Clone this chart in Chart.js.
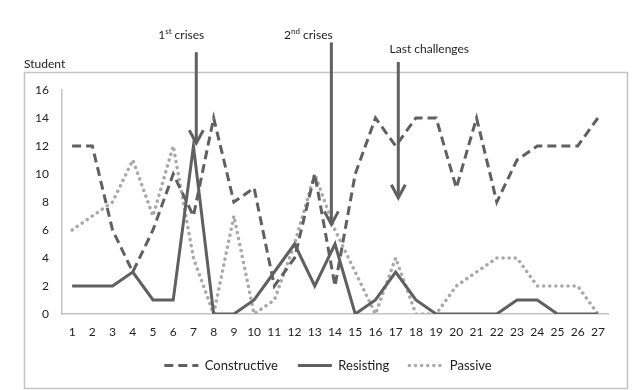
<!DOCTYPE html>
<html><head><meta charset="utf-8">
<script src="https://cdn.jsdelivr.net/npm/chart.js@4/dist/chart.umd.min.js"></script>
<style>html,body{margin:0;padding:0;background:#fff}</style>
</head><body>
<canvas id="c" width="643" height="390" style="display:block;width:643px;height:390px"></canvas>
<script>
const categories = ['1','2','3','4','5','6','7','8','9','10','11','12','13','14','15','16','17','18','19','20','21','22','23','24','25','26','27'];
const constructive = [12,12,6,3,6,10,7,14,8,9,2,4,10,2,10,14,12,14,14,9,14,8,11,12,12,12,14];
const resisting    = [2,2,2,3,1,1,12,0,0,1,3,5,2,5,0,1,3,1,0,0,0,0,1,1,0,0,0];
const passive      = [6,7,8,11,7,12,4,0,7,0,1,5,10,6,3,0,4,0,0,2,3,4,4,2,2,2,0];
const yTickStep    = 2;
const yMin = 0, yMax = 16;
const yAxisTitle   = 'Student';
const seriesNames  = ['Constructive','Resisting','Passive'];
// event annotations: [main, superscript, rest]
const eventTexts   = [['1','st',' crises'],['2','nd',' crises'],['Last challenges','','']];
const eventCategory = [7.14, 13.82, 17.13];   // category position of arrow
const eventTipValue = [12.2, 6.4, 8.3];       // value the arrow points to
const eventTopValue = [18.7, 19.4, 18.0];     // value where arrow starts

const FONT = 'Lato, "Open Sans", sans-serif';
const DARK = '#606060';
const LIGHT = '#a9a9a9';

const annot = {
  id: 'annot',
  afterDraw(chart) {
    const ctx = chart.ctx, xs = chart.scales.x, ys = chart.scales.y;
    ctx.save();
    ctx.strokeStyle = '#c4c4c4'; ctx.lineWidth = 1.5;
    ctx.strokeRect(24.5, 72.5, 603, 316);
    ctx.fillStyle = '#222';
    ctx.font = '12px ' + FONT;
    ctx.textBaseline = 'middle'; ctx.textAlign = 'left';
    ctx.fillText(yAxisTitle, 24, 64);
    const labelDx = [-15, -23, 31];
    const labelY = [35, 35, 49];
    eventCategory.forEach((c, i) => {
      const x = xs.getPixelForValue(c - 1);
      const tip = ys.getPixelForValue(eventTipValue[i]);
      const top = ys.getPixelForValue(eventTopValue[i]);
      ctx.strokeStyle = DARK; ctx.lineWidth = 3; ctx.lineJoin = 'miter'; ctx.lineCap = 'butt';
      ctx.setLineDash([]);
      ctx.beginPath(); ctx.moveTo(x, top); ctx.lineTo(x, tip - 1); ctx.stroke();
      ctx.beginPath(); ctx.moveTo(x - 7, tip - 13); ctx.lineTo(x, tip); ctx.lineTo(x + 7, tip - 13); ctx.stroke();
      const [a, s, r] = eventTexts[i];
      ctx.font = '12px ' + FONT; const wa = ctx.measureText(a).width, wr = ctx.measureText(r).width;
      ctx.font = '8px ' + FONT; const ws = ctx.measureText(s).width;
      let lx = x + labelDx[i] - (wa + ws + wr) / 2;
      const ly = labelY[i];
      ctx.fillStyle = '#222';
      ctx.font = '12px ' + FONT; ctx.fillText(a, lx, ly); lx += wa;
      ctx.font = '8px ' + FONT; ctx.fillText(s, lx, ly - 4); lx += ws;
      ctx.font = '12px ' + FONT; ctx.fillText(r, lx, ly);
    });
    ctx.restore();
  }
};

new Chart(document.getElementById('c'), {
  type: 'line',
  data: {
    labels: categories,
    datasets: [
      { label: seriesNames[0], data: constructive, borderColor: DARK, backgroundColor: DARK, borderWidth: 3, borderDash: [9,5], borderCapStyle: 'butt' },
      { label: seriesNames[1], data: resisting, borderColor: DARK, backgroundColor: DARK, borderWidth: 3 },
      { label: seriesNames[2], data: passive, borderColor: LIGHT, backgroundColor: LIGHT, borderWidth: 3.5, borderDash: [0.1,6], borderCapStyle: 'round' }
    ]
  },
  options: {
    responsive: false, animation: false, devicePixelRatio: 1,
    elements: { point: { radius: 0, hoverRadius: 0 }, line: { tension: 0, fill: false } },
    layout: { padding: { top: 90, left: 24, right: 11, bottom: 8 } },
    scales: {
      x: {
        offset: true,
        grid: { display: false, drawTicks: false },
        border: { display: true, color: '#c4c4c4', width: 1.5 },
        ticks: { color: '#222', font: { family: FONT, size: 12 }, padding: 11, maxRotation: 0, autoSkip: false },
        afterFit(s) { s.height = 25; }
      },
      y: {
        min: yMin, max: yMax,
        grid: { display: false, drawTicks: false },
        border: { display: true, color: '#c4c4c4', width: 1.5 },
        ticks: { stepSize: yTickStep, color: '#222', font: { family: FONT, size: 12 }, padding: 13 },
        afterFit(s) { s.width = 38; }
      },
      yR: {
        position: 'right', display: true,
        grid: { display: false, drawTicks: false },
        border: { display: false },
        ticks: { display: false },
        afterFit(s) { s.width = 24; }
      }
    },
    plugins: {
      legend: {
        position: 'bottom',
        labels: {
          usePointStyle: true, pointStyle: 'line', pointStyleWidth: 34, padding: 20, color: '#222',
          font: { family: FONT, size: 13 },
          generateLabels(chart) {
            const items = Chart.defaults.plugins.legend.labels.generateLabels(chart);
            items.forEach((it, i) => {
              const ds = chart.data.datasets[i];
              it.lineDash = ds.borderDash || [];
              it.lineCap = ds.borderCapStyle || 'butt';
              it.lineWidth = ds.borderWidth;
              it.strokeStyle = ds.borderColor;
              it.pointStyle = 'line';
            });
            return items;
          }
        }
      },
      tooltip: { enabled: false }
    }
  },
  plugins: [annot]
});
</script>
</body></html>
